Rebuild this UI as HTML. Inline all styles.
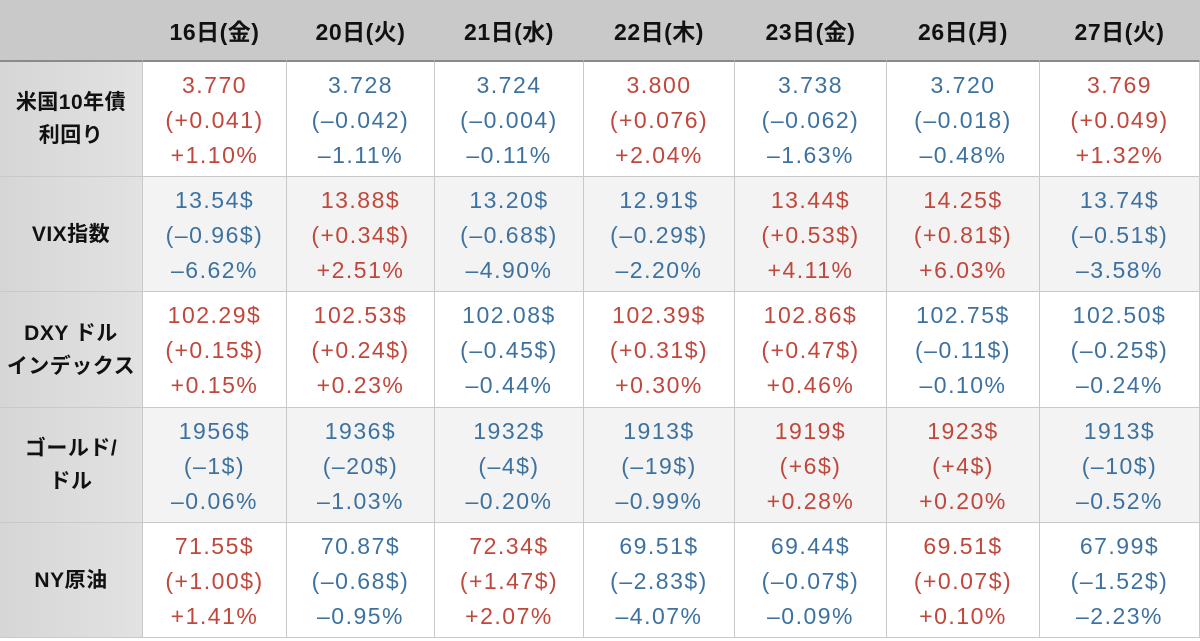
<!DOCTYPE html>
<html><head><meta charset="utf-8">
<style>
html,body{margin:0;padding:0;width:1200px;height:641px;overflow:hidden;background:#fff;font-family:"Liberation Sans","Noto Sans CJK JP",sans-serif;}
#t{position:absolute;left:0;top:0;width:1200px;height:641px;}
.c{position:absolute;box-sizing:border-box;border-right:1px solid #c9c9c9;border-bottom:1px solid #c9c9c9;display:flex;flex-direction:column;align-items:center;justify-content:center;text-align:center;}
.h{background:#c9c9c9;font-weight:bold;font-size:23px;letter-spacing:0.5px;color:#111;border-bottom:2px solid #8a8a8a;}
.l{background:linear-gradient(90deg,#d6d6d6,#e2e2e2);font-weight:bold;font-size:21px;color:#111;line-height:33px;letter-spacing:0.5px;}
.v{font-size:23px;line-height:35px;letter-spacing:1.5px;padding-top:2px;}
.up{color:#c0473b;}.dn{color:#3d72a0;}
</style></head><body>
<div id="t"></div>
<script>
const days=["16日(金)","20日(火)","21日(水)","22日(木)","23日(金)","26日(月)","27日(火)"];
const labels=[["米国10年債","利回り"],["VIX指数"],["DXY ドル","インデックス"],["ゴールド/","ドル"],["NY原油"]];
const vals=[
["3.770","3.728","3.724","3.800","3.738","3.720","3.769"],
["13.54$","13.88$","13.20$","12.91$","13.44$","14.25$","13.74$"],
["102.29$","102.53$","102.08$","102.39$","102.86$","102.75$","102.50$"],
["1956$","1936$","1932$","1913$","1919$","1923$","1913$"],
["71.55$","70.87$","72.34$","69.51$","69.44$","69.51$","67.99$"]];
const chg=[
["+0.041","–0.042","–0.004","+0.076","–0.062","–0.018","+0.049"],
["–0.96$","+0.34$","–0.68$","–0.29$","+0.53$","+0.81$","–0.51$"],
["+0.15$","+0.24$","–0.45$","+0.31$","+0.47$","–0.11$","–0.25$"],
["–1$","–20$","–4$","–19$","+6$","+4$","–10$"],
["+1.00$","–0.68$","+1.47$","–2.83$","–0.07$","+0.07$","–1.52$"]];
const pct=[
["+1.10%","–1.11%","–0.11%","+2.04%","–1.63%","–0.48%","+1.32%"],
["–6.62%","+2.51%","–4.90%","–2.20%","+4.11%","+6.03%","–3.58%"],
["+0.15%","+0.23%","–0.44%","+0.30%","+0.46%","–0.10%","–0.24%"],
["–0.06%","–1.03%","–0.20%","–0.99%","+0.28%","+0.20%","–0.52%"],
["+1.41%","–0.95%","+2.07%","–4.07%","–0.09%","+0.10%","–2.23%"]];
const t=document.getElementById('t');
const colX=[0,143,287,435,584,735,887,1040,1200];
const rowY=[0,62,177,292,408,523,638];
function cell(x0,x1,y0,y1,cls,html){const d=document.createElement('div');d.className='c '+cls;
d.style.left=x0+'px';d.style.top=y0+'px';d.style.width=(x1-x0)+'px';d.style.height=(y1-y0)+'px';d.innerHTML=html;t.appendChild(d);return d;}
const h0=cell(0,143,0,62,'h','');


days.forEach((d,i)=>{const e=cell(colX[i+1],colX[i+2],0,62,'h',d);

});
labels.forEach((lb,r)=>{
const e=cell(0,143,rowY[r+1],rowY[r+2],'l',lb.map(s=>'<div>'+s+'</div>').join(''));


for(let i=0;i<7;i++){
const cls=chg[r][i][0]==='+'?'up':'dn';
const c=cell(colX[i+1],colX[i+2],rowY[r+1],rowY[r+2],'v '+cls,
'<div>'+vals[r][i]+'</div><div>('+chg[r][i]+')</div><div>'+pct[r][i]+'</div>');
c.style.background=r%2?'#f3f3f3':'#fff';

}
});
</script>
</body></html>
